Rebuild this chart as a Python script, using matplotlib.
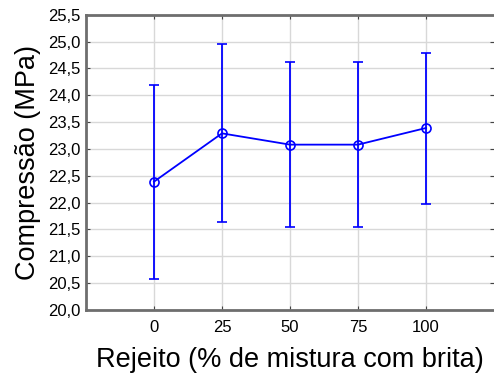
import matplotlib
matplotlib.use("Agg")
import matplotlib.pyplot as plt
from matplotlib.ticker import FuncFormatter

# Dados: compressão média e limites das barras de erro
rejeito = [0, 25, 50, 75, 100]
compressao = [22.39, 23.29, 23.08, 23.08, 23.39]
limite_sup = [24.20, 24.95, 24.62, 24.62, 24.79]
limite_inf = [20.57, 21.64, 21.55, 21.55, 21.97]

erro_inf = [c - l for c, l in zip(compressao, limite_inf)]
erro_sup = [u - c for c, u in zip(compressao, limite_sup)]

plt.rcParams['font.family'] = ['Liberation Sans', 'DejaVu Sans']

fig = plt.figure(figsize=(4.94, 3.78), dpi=100)
ax = fig.add_axes([0.174, 0.180, 0.826, 0.781])

ax.errorbar(rejeito, compressao, yerr=[erro_inf, erro_sup], color='blue',
            linewidth=1.3, elinewidth=1.3, capsize=3.5, capthick=1.3,
            marker='o', markersize=6.5, markerfacecolor='none',
            markeredgecolor='blue', markeredgewidth=1.2, zorder=3)

ax.set_xlim(-25, 125)
ax.set_ylim(20.0, 25.5)
ax.set_xticks(rejeito)
ax.set_yticks([20.0 + 0.5 * i for i in range(12)])
ax.yaxis.set_major_formatter(FuncFormatter(lambda v, p: f"{v:.1f}".replace('.', ',')))

ax.grid(True, color='#d8d8d8', linewidth=1.0)
ax.set_axisbelow(True)

for lado in ['left', 'bottom', 'top']:
    ax.spines[lado].set_color('#6e6e6e')
    ax.spines[lado].set_linewidth(2)
ax.spines['right'].set_visible(False)

ax.tick_params(axis='both', direction='in', length=3, color='#444444',
               labelsize=12, top=True, right=True)
ax.tick_params(axis='x', pad=7)
ax.tick_params(axis='y', pad=4)

ax.set_xlabel("Rejeito (% de mistura com brita)", fontsize=19.5, labelpad=9)
ax.set_ylabel("Compressão (MPa)", fontsize=19.5, labelpad=5)

plt.savefig("out.png", dpi=100)
